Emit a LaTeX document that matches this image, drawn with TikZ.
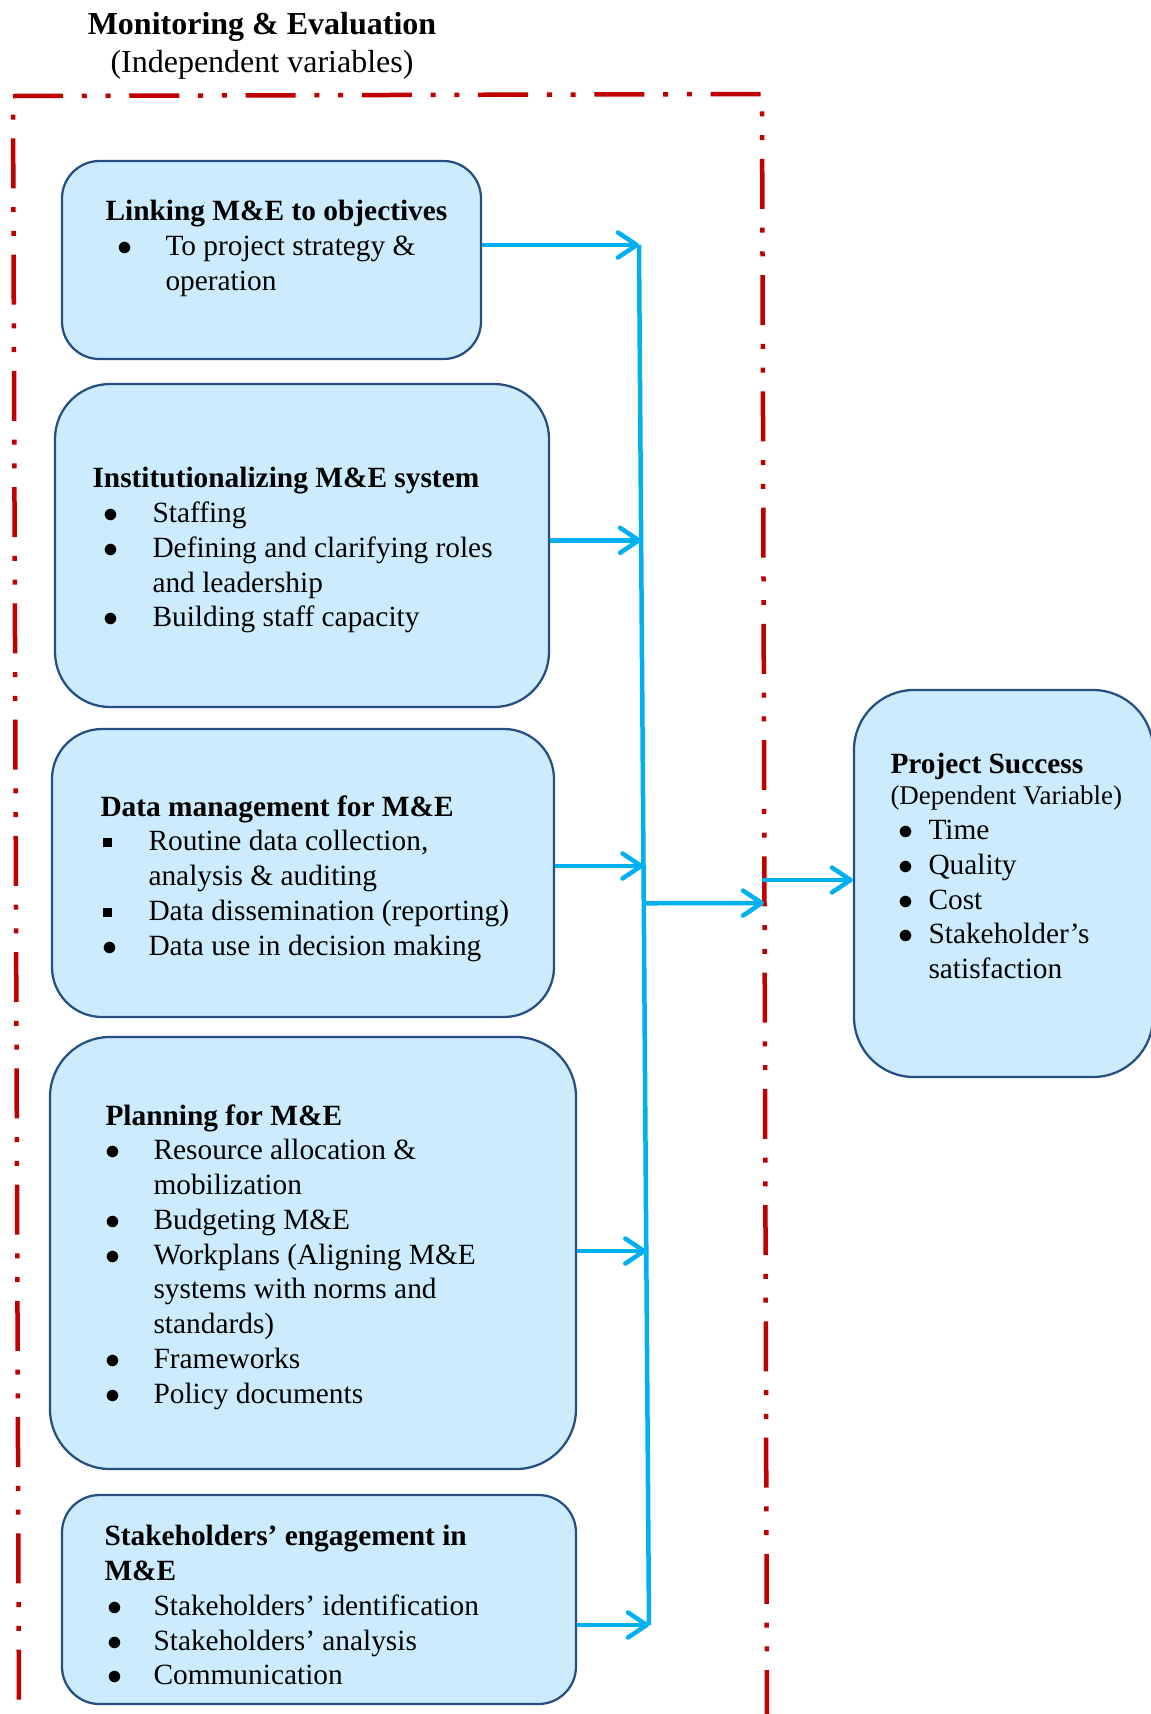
\documentclass[tikz,border=0pt]{standalone}
\usepackage{fontspec}
\setmainfont{Liberation Serif}
\usetikzlibrary{arrows.meta,calc}
\definecolor{boxfill}{RGB}{204,236,253}
\definecolor{boxline}{RGB}{38,78,128}
\definecolor{flowblue}{RGB}{0,176,240}
\definecolor{borderred}{RGB}{192,0,0}
\newlength\itmx
\newlength\itmw
\newcommand{\itm}[1]{\makebox[\itmw][l]{\hspace*{\itmx}$\bullet$}#1}
\newcommand{\sqitm}[1]{\makebox[\itmw][l]{\hspace*{\itmx}\rule[1.4pt]{3.6pt}{3.6pt}}#1}
\newcommand{\cnt}[1]{\hspace*{\itmw}#1}
\tikzset{
  mebox/.style={draw=boxline, fill=boxfill, line width=0.9pt, inner sep=0pt},
  txt/.style={anchor=north west, align=left, inner sep=0pt, font=\fontsize{11.75}{13.9}\selectfont},
  indent/.style 2 args={execute at begin node={\setlength\itmx{#1}\setlength\itmw{#2}}},
  bus/.style={draw=flowblue, line width=1.8pt},
  flow/.style={bus, -{Straight Barb[length=7.5pt,width=10pt,round]}},
  border/.style={draw=borderred, line width=1.8pt, dash pattern=on 20pt off 7.5pt on 2pt off 7.5pt on 2pt off 7.5pt}
}
\begin{document}
\begin{tikzpicture}[x=0.4pt,y=-0.4pt]
\useasboundingbox (0,0) rectangle (1151,1714);
% heading
\node[txt,anchor=north,align=center,font=\fontsize{12.8}{15}\selectfont] (head) at (262,12) {\textbf{Monitoring \& Evaluation}\\(Independent variables)};
% frame round the independent variables
\draw[border] (13,96) -- (762,94) -- (767,1716.5) -- (19,1719) -- cycle;
% boxes
\node[mebox,rounded corners=15pt,minimum width=167.6pt,minimum height=79.2pt] (link) at (271.5,260) {};
\node[mebox,rounded corners=22pt,minimum width=197.6pt,minimum height=129.2pt] (inst) at (302,545.5) {};
\node[mebox,rounded corners=20pt,minimum width=200.8pt,minimum height=115.2pt] (data) at (303,873) {};
\node[mebox,rounded corners=24pt,minimum width=210.4pt,minimum height=172.8pt] (plan) at (313,1253) {};
\node[mebox,rounded corners=15pt,minimum width=205.6pt,minimum height=83.6pt] (stake) at (319,1599.5) {};
\node[mebox,rounded corners=24pt,minimum width=119.6pt,minimum height=154.8pt] (success) at (1003.5,883.5) {};
% texts
\node[txt,indent={5pt}{24pt}] (linktxt) at (105,200) {\textbf{Linking M\&E to objectives}\\
  \itm{To project strategy \&}\\
  \cnt{operation}};
\node[txt,indent={4.3pt}{24pt}] (insttxt) at (92,467) {\textbf{Institutionalizing M\&E system}\\
  \itm{Staffing}\\
  \itm{Defining and clarifying roles}\\
  \cnt{and leadership}\\
  \itm{Building staff capacity}};
\node[txt,indent={0.8pt}{19.2pt}] (datatxt) at (100,795) {\textbf{Data management for M\&E}\\
  \sqitm{Routine data collection,}\\
  \cnt{analysis \& auditing}\\
  \sqitm{Data dissemination (reporting)}\\
  \itm{Data use in decision making}};
\node[txt,indent={0pt}{19.2pt}] (plantxt) at (105,1104) {\textbf{Planning for M\&E}\\
  \itm{Resource allocation \&}\\
  \cnt{mobilization}\\
  \itm{Budgeting M\&E}\\
  \itm{Workplans (Aligning M\&E}\\
  \cnt{systems with norms and}\\
  \cnt{standards)}\\
  \itm{Frameworks}\\
  \itm{Policy documents}};
\node[txt,indent={1.2pt}{19.6pt}] (staketxt) at (104,1525) {\textbf{Stakeholders’ engagement in}\\
  \textbf{M\&E}\\
  \itm{Stakeholders’ identification}\\
  \itm{Stakeholders’ analysis}\\
  \itm{Communication}};
\node[txt,indent={3.2pt}{15.2pt}] (successtxt) at (890,753) {\textbf{Project Success}\\[-1.5pt]
  {\fontsize{10.8}{12}\selectfont(Dependent Variable)}\\
  \itm{Time}\\
  \itm{Quality}\\
  \itm{Cost}\\
  \itm{Stakeholder’s}\\
  \cnt{satisfaction}};
% arrows into the bus
\coordinate (bustop) at (639,245);
\coordinate (busbot) at (649,1625);
\coordinate (b2) at ($(bustop)!0.214!(busbot)$);
\coordinate (b3) at ($(bustop)!0.45!(busbot)$);
\coordinate (b4) at ($(bustop)!0.729!(busbot)$);
\coordinate (bj) at ($(bustop)!0.477!(busbot)$);
\draw[bus] (bustop) -- (busbot);
\draw[flow] (link.east |- bustop) -- (bustop);
\draw[flow] (inst.east |- b2) -- (b2);
\draw[flow] (data.east |- b3) -- (b3);
\draw[flow] (plan.east |- b4) -- (b4);
\draw[flow] (stake.east |- busbot) -- (busbot);
% out to project success
\coordinate (gin) at (764,903);
\coordinate (gout) at (762,880);
\draw[flow] (bj) -- (gin);
\draw[flow] (gout) -- (gout -| success.west);
\end{tikzpicture}
\end{document}
